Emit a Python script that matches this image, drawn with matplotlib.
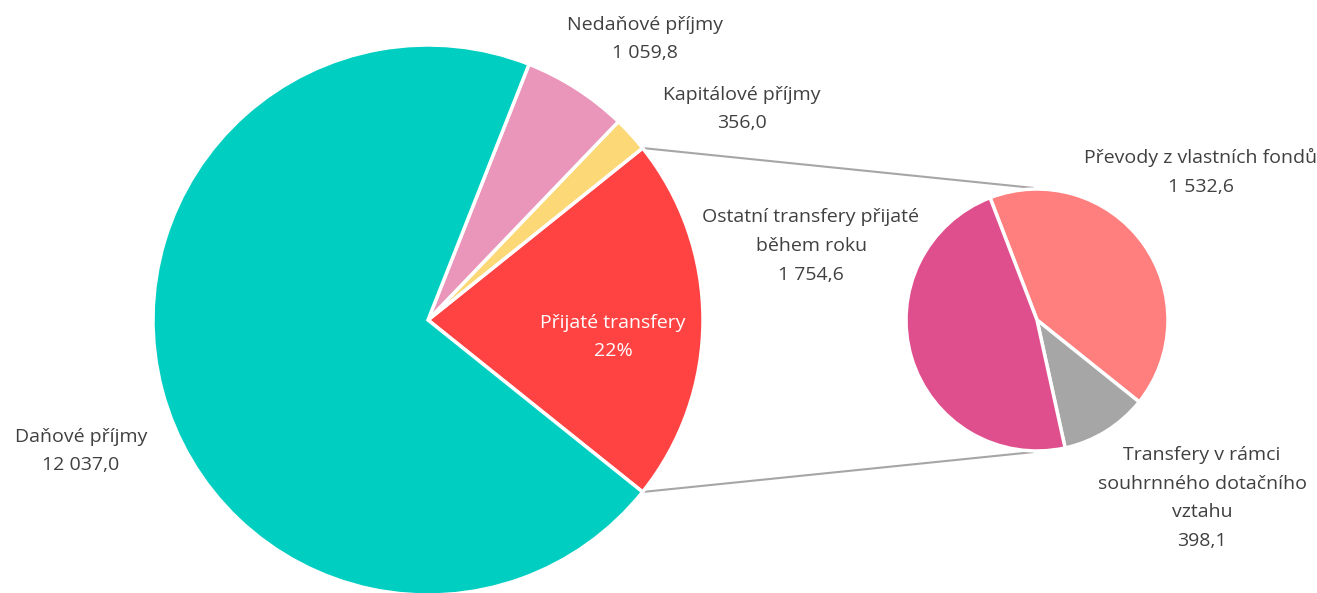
import numpy as np
import matplotlib
matplotlib.use("Agg")
import matplotlib.pyplot as plt

# ---- data ----
main_labels = ["Přijaté transfery", "Kapitálové příjmy", "Nedaňové příjmy", "Daňové příjmy"]
main_values = [None, 356.0, 1059.8, 12037.0]  # transfers = sum of sub-pie
sub_labels = ["Převody z vlastních fondů", "Transfery v rámci souhrnného dotačního vztahu",
              "Ostatní transfery přijaté během roku"]
sub_values = [1532.6, 398.1, 1754.6]
main_values[0] = sum(sub_values)

main_colors = ["#FF4343", "#FDD877", "#EA95BA", "#00CEC1"]
sub_colors = ["#FF7F7F", "#A6A6A6", "#DF4F8D"]
text_color = "#404040"

def czfmt(v):
    s = f"{v:,.1f}"
    return s.replace(",", " ").replace(".", ",")

W, H = 1317, 593
fig = plt.figure(figsize=(W / 100, H / 100), dpi=100)
ax = fig.add_axes([0, 0, 1, 1])
ax.set_xlim(0, W)
ax.set_ylim(0, H)
ax.set_aspect("equal")
ax.axis("off")

plt.rcParams["font.family"] = ["Open Sans", "DejaVu Sans"]

c1 = (428, H - 320)
r1 = 275
c2 = (1037, H - 320)
r2 = 131

total = sum(main_values)
span = main_values[0] / total * 360
start1 = -span / 2
ax.pie(main_values, colors=main_colors, startangle=start1, counterclock=True,
       center=c1, radius=r1, frame=True,
       wedgeprops=dict(edgecolor="white", linewidth=2.5))

sub_total = sum(sub_values)
start2 = 111
ax.pie(sub_values, colors=sub_colors, startangle=start2, counterclock=False,
       center=c2, radius=r2, frame=True,
       wedgeprops=dict(edgecolor="white", linewidth=2.5))
ax.set_xlim(0, W)
ax.set_ylim(0, H)
ax.axis("off")

# connector lines
for sgn in (1, -1):
    a = np.deg2rad(sgn * span / 2)
    p1 = (c1[0] + r1 * np.cos(a), c1[1] + r1 * np.sin(a))
    p2 = (c2[0] - 3, c2[1] + sgn * (r2 + 1))
    ax.plot([p1[0], p2[0]], [p1[1], p2[1]], color="#A6A6A6", lw=1.5, zorder=0,
            solid_capstyle="butt")

fs = 14
def lab(x, y, lines, color=text_color):
    ax.text(x, H - y, "\n".join(lines), ha="center", va="center", fontsize=fs,
            color=color, linespacing=1.75)

lab(645, 39, [main_labels[2], czfmt(main_values[2])])
lab(742, 109, [main_labels[1], czfmt(main_values[1])])
lab(81, 451, [main_labels[3], czfmt(main_values[3])])
lab(613, 337, [main_labels[0], f"{main_values[0] / total * 100:.0f}%"], color="white")
lab(811, 246, ["Ostatní transfery přijaté", "během roku", czfmt(sub_values[2])])
lab(1201, 172, [sub_labels[0], czfmt(sub_values[0])])
lab(1202, 498, ["Transfery v rámci", "souhrnného dotačního", "vztahu", czfmt(sub_values[1])])

fig.savefig("out.png", dpi=100)
